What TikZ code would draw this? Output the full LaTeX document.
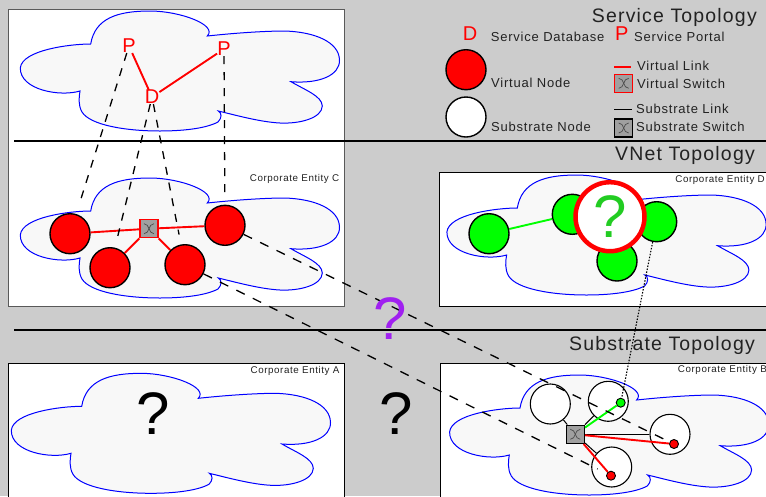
\documentclass[tikz,border=0pt]{standalone}
\usepackage{fontspec}
\setmainfont{Liberation Sans}
\newfontfamily\lsA[LetterSpace=6]{Liberation Sans}
\definecolor{bgg}{HTML}{CCCCCC}
\definecolor{cloudf}{HTML}{F8F8F8}
\definecolor{swg}{HTML}{A0A0A0}
\definecolor{ink}{HTML}{222222}
\definecolor{qgreen}{HTML}{22CC22}
\definecolor{qpurple}{HTML}{A020F0}
\newcommand{\cloudpath}{
 (90.7,44) .. controls (95,18) and (118,11) .. (150,11)
 .. controls (180,11) and (218,25) .. (207.3,36)
 .. controls (235,33) and (265,31) .. (285,31)
 .. controls (315,32) and (339,42) .. (339.5,60)
 .. controls (340,75) and (320,84) .. (291,81.7)
 .. controls (305,90) and (322,96) .. (322.3,106)
 .. controls (322,118) and (300,124) .. (280,123)
 .. controls (260,122) and (235,115) .. (218.3,111)
 .. controls (222,113) and (222,118) .. (218,122)
 .. controls (205,129) and (180,131) .. (160,131)
 .. controls (125,131) and (90,125) .. (82,112)
 .. controls (78,105) and (79,97) .. (80,91)
 .. controls (60,97) and (20,90) .. (20.3,68)
 .. controls (22,50) and (70,44) .. (90.7,44) -- cycle}
\tikzset{
 x=1pt,y=-1pt,
 cloudshape/.style={draw=blue,fill=cloudf,line width=1pt},
 frameb/.style={draw=black,fill=white,line width=1pt},
 rule/.style={draw=black,line width=2pt},
 vn/.style={circle,draw=black,fill=red,line width=1.4pt,minimum size=40pt,inner sep=0pt},
 gn/.style={circle,draw=black,fill=green,line width=1.4pt,minimum size=40pt,inner sep=0pt},
 sn/.style={circle,draw=black,fill=white,line width=1.1pt,minimum size=40pt,inner sep=0pt},
 dotn/.style={circle,draw=black,line width=0.9pt,minimum size=9pt,inner sep=0pt},
 vsw/.style={rectangle,draw=red,fill=swg,line width=1.4pt,minimum size=18pt,inner sep=0pt},
 ssw/.style={rectangle,draw=black,fill=swg,line width=1.4pt,minimum size=18pt,inner sep=0pt},
 vlink/.style={draw=red,line width=1.9pt},
 glink/.style={draw=green,line width=1.9pt},
 slink/.style={draw=black,line width=1pt},
 svcline/.style={draw=black,line width=1.3pt,dash pattern=on 8pt off 8pt},
 mapline/.style={draw=black,line width=1.3pt,dash pattern=on 9.3pt off 9pt},
 dotl/.style={draw=black,line width=1.1pt,dash pattern=on 1.5pt off 1.5pt},
 redletter/.style={text=red,font=\fontsize{20}{20}\selectfont,inner sep=0pt},
 title/.style={text=ink,font=\lsA\fontsize{19.5}{19.5}\selectfont,inner sep=0pt,anchor=east},
 leg/.style={text=ink,font=\lsA\fontsize{13}{13}\selectfont,inner sep=0pt,anchor=west},
 corp/.style={text=ink,font=\lsA\fontsize{9.8}{9.8}\selectfont,inner sep=0pt,anchor=east},
 bigq/.style={inner sep=0pt,font=\fontsize{60}{60}\selectfont},
}
\newcommand{\swicon}[1]{
 \draw[draw=black!70,line width=0.7pt] ([shift={(-5,-5)}]#1.center) .. controls +(6,0) and +(-6,0) .. ([shift={(5,5)}]#1.center);
 \draw[draw=black!70,line width=0.7pt] ([shift={(5,-5)}]#1.center) .. controls +(-6,0) and +(6,0) .. ([shift={(-5,5)}]#1.center);
}
\begin{document}
\begin{tikzpicture}
\fill[bgg] (0,0) rectangle (766,496);
\useasboundingbox (0,0) rectangle (766,496);
% frames
\path[frameb,draw=black!65] (8,9) rectangle (344,306);
\path[frameb] (439,172) rectangle (770,306);
\path[frameb] (8,363) rectangle (344,500);
\path[frameb] (440,363) rectangle (770,500);
% rules
\coordinate (r1a) at (14,141); \coordinate (r1b) at (766,141);
\coordinate (r2a) at (14,330); \coordinate (r2b) at (766,330);
\draw[rule] (r1a) -- (r1b);
\draw[rule] (r2a) -- (r2b);
% clouds
\path[cloudshape] \cloudpath;
\begin{scope}[shift={(0,167)}] \path[cloudshape] \cloudpath; \end{scope}
\begin{scope}[shift={(426.6,164)}] \path[cloudshape] \cloudpath; \end{scope}
\begin{scope}[shift={(429.3,364)}] \path[cloudshape] \cloudpath; \end{scope}
\begin{scope}[shift={(-9,362.3)}] \path[cloudshape] \cloudpath; \end{scope}
% titles
\node[title] (t1) at (757,17) {Service Topology};
\node[title] (t2) at (755,155) {VNet Topology};
\node[title] (t3) at (755,345) {Substrate Topology};
\node[corp] (cc) at (339.5,178.7) {Corporate Entity C};
\node[corp] (cd) at (765,180) {Corporate Entity D};
\node[corp] (ca) at (339.7,370.7) {Corporate Entity A};
\node[corp] (cb) at (767,370.2) {Corporate Entity B};
% service
\node[redletter] (p1) at (129,46) {P};
\node[redletter] (p2) at (224,49) {P};
\node[redletter] (d) at (152,97) {D};
\draw[vlink] (p1) -- (d);
\draw[vlink] (p2) -- (d);
% vnet C nodes
\node[vn] (c1) at (70,233.7) {};
\node[vn] (c2) at (110,267.7) {};
\node[vn] (c3) at (185,264.7) {};
\node[vn] (c4) at (225,225.3) {};
\node[vsw] (csw) at (149,228.7) {};
\swicon{csw}
\draw[vlink] (c1) -- (csw);
\draw[vlink] (c2) -- (csw);
\draw[vlink] (c3) -- (csw);
\draw[vlink] (c4) -- (csw);
% service-vnet dashes
\draw[svcline,shorten >=13pt] (p1) -- (c1);
\draw[svcline,shorten >=12pt] (d) -- (c2);
\draw[svcline,shorten >=10pt] (d) -- (c3);
\draw[svcline,shorten >=9pt] (p2) -- (c4);
% D nodes
\node[gn] (g1) at (489,233.7) {};
\node[gn] (g2) at (572.3,214.3) {};
\node[gn] (g3) at (656.7,221.7) {};
\node[gn] (g4) at (617,261) {};
\draw[glink] (g1) -- (g2);
\node[circle,draw=red,fill=white,line width=4.5pt,minimum size=69pt,inner sep=0pt,text=qgreen,font=\fontsize{60}{60}\selectfont] (qm) at (610,216.7) {?};
% substrate
\node[sn] (s1) at (550.3,404) {};
\node[sn] (s2) at (608.3,401.3) {};
\node[sn] (s3) at (670,434.3) {};
\node[sn] (s4) at (611.7,467) {};
\node[ssw] (ssw1) at (575.3,434.3) {};
\swicon{ssw1}
\draw[slink] (s1) -- (ssw1);
\draw[slink] (s2) -- (ssw1);
\draw[slink] (s3) -- (ssw1);
\draw[slink] (s4) -- (ssw1);
\node[dotn,fill=green] (dg) at (620.7,402.7) {};
\node[dotn,fill=red] (dr1) at (674,444) {};
\node[dotn,fill=red] (dr2) at (611,475.7) {};
\draw[glink] (ssw1) -- (dg);
\draw[vlink] (ssw1) -- (dr1);
\draw[vlink] (ssw1) -- (dr2);
% mapping lines
\draw[mapline] (c4) -- (dr1);
\draw[mapline,shorten >=10pt] (c3) -- (dr2);
\draw[dotl] (g3) -- (dg);
% question marks
\node[bigq,text=qpurple] (q1) at (390.5,318.5) {?};
\node[bigq] (q2) at (396,413.5) {?};
\node[bigq] (q3) at (153,413.5) {?};
% legend
\node[redletter] (ld) at (470,34) {D};
\node[leg] at (490.7,36.7) {Service Database};
\node[redletter] (lp) at (621.7,34) {P};
\node[leg] at (634,36.7) {Service Portal};
\node[vn] (lv) at (466,69.7) {};
\node[leg] at (491,82.7) {Virtual Node};
\node[sn,line width=1.4pt] (ls) at (466,117) {};
\node[leg] at (491,126.7) {Substrate Node};
\coordinate (lva) at (614,67); \coordinate (lvb) at (631,67);
\draw[vlink] (lva) -- (lvb);
\node[leg] at (637,65.7) {Virtual Link};
\node[vsw] (lvs) at (623.7,83.3) {};
\swicon{lvs}
\node[leg] at (637,83.7) {Virtual Switch};
\coordinate (lsa) at (614,109.3); \coordinate (lsb) at (632,109.3);
\draw[slink] (lsa) -- (lsb);
\node[leg] at (636,108.7) {Substrate Link};
\node[ssw] (lss) at (623.7,128) {};
\swicon{lss}
\node[leg] at (636,126.7) {Substrate Switch};
\end{tikzpicture}
\end{document}
